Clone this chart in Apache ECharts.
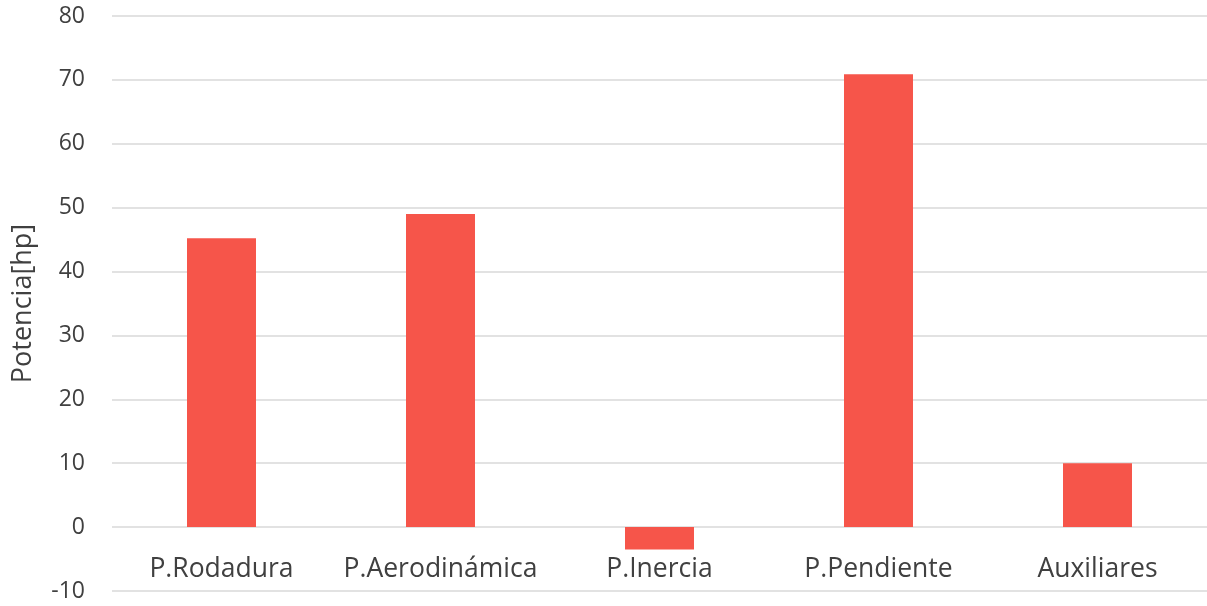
<!DOCTYPE html>
<html>
<head>
<meta charset="utf-8">
<script src="https://cdn.jsdelivr.net/npm/echarts@6/dist/echarts.min.js"></script>
<style>
  html, body { margin: 0; padding: 0; background: #fff; }
  #chart { width: 1207px; height: 606px; }
</style>
</head>
<body>
<div id="chart"></div>
<script>
// Power demand by component, in hp
const categories = ['P.Rodadura', 'P.Aerodinámica', 'P.Inercia', 'P.Pendiente', 'Auxiliares'];
const potencia = [45.2, 49.0, -3.5, 70.9, 10.0];
const yTicks = { min: -10, max: 80, interval: 10 };
const yTitle = 'Potencia[hp]';

const textColor = '#404040';
const gridColor = '#d9d9d9';
const fontFamily = '"Open Sans", "Noto Sans", sans-serif';

const W = 1207, H = 606;
const gridBox = { left: 112, right: 0, top: 16, bottom: 15 };
// the category axis sits on the zero line, so lift it from the plot bottom
const plotH = H - gridBox.top - gridBox.bottom;
const zeroLift = (0 - yTicks.min) / (yTicks.max - yTicks.min) * plotH;

const chart = echarts.init(document.getElementById('chart'), null, { renderer: 'canvas', width: W, height: H });
chart.setOption({
  animation: false,
  backgroundColor: '#ffffff',
  grid: Object.assign({ containLabel: false, outerBoundsMode: 'none' }, gridBox),
  xAxis: {
    type: 'category',
    data: categories,
    offset: -zeroLift,
    axisLine: { show: false, onZero: false },
    axisTick: { show: false },
    axisLabel: { interval: 0, hideOverlap: false, color: textColor, fontSize: 26.5, fontFamily: fontFamily, margin: 29 },
    splitLine: { show: false }
  },
  yAxis: {
    type: 'value',
    min: yTicks.min,
    max: yTicks.max,
    interval: yTicks.interval,
    name: yTitle,
    nameLocation: 'middle',
    nameGap: 75,
    nameTextStyle: { color: textColor, fontSize: 27, fontFamily: fontFamily },
    axisLine: { show: false },
    axisTick: { show: false },
    axisLabel: { color: textColor, fontSize: 23, fontFamily: fontFamily, margin: 27 },
    splitLine: { show: true, lineStyle: { color: gridColor, width: 1.5 } }
  },
  series: [{
    type: 'bar',
    data: potencia,
    barWidth: '31.5%',
    itemStyle: { color: '#F6554A' }
  }]
});
</script>
</body>
</html>
